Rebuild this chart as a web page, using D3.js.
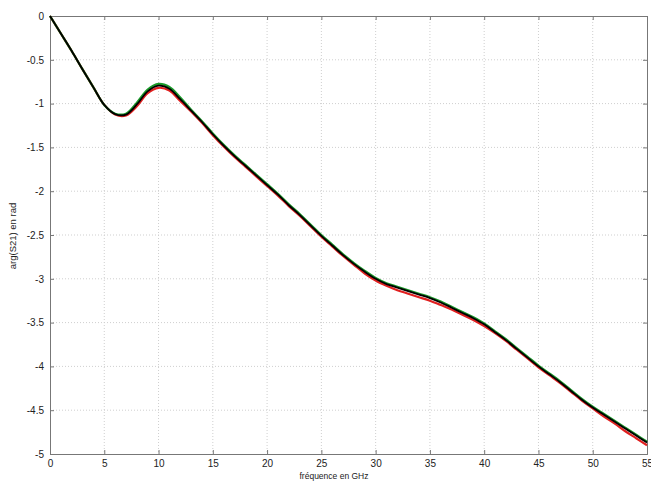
<!DOCTYPE html>
<html><head><meta charset="utf-8">
<script src="https://cdn.jsdelivr.net/npm/d3@7"></script>
<style>body{margin:0;background:#fff}svg{display:block}</style>
</head><body>
<script>
const freq = d3.range(0, 56, 1);
const blackVals = [0,-0.20,-0.40,-0.61,-0.815,-1.015,-1.12,-1.125,-1.01,-0.86,-0.795,-0.83,-0.95,-1.08,-1.21,-1.35,-1.48,-1.60,-1.71,-1.82,-1.93,-2.04,-2.16,-2.27,-2.39,-2.51,-2.62,-2.73,-2.83,-2.92,-3.00,-3.06,-3.10,-3.14,-3.18,-3.22,-3.27,-3.33,-3.39,-3.45,-3.52,-3.61,-3.70,-3.80,-3.90,-4.00,-4.09,-4.18,-4.28,-4.38,-4.47,-4.55,-4.63,-4.71,-4.79,-4.87];
const greenVals = [0,-0.20,-0.40,-0.61,-0.815,-1.015,-1.115,-1.115,-0.99,-0.84,-0.775,-0.81,-0.93,-1.07,-1.20,-1.34,-1.47,-1.59,-1.70,-1.81,-1.92,-2.03,-2.15,-2.26,-2.38,-2.50,-2.61,-2.72,-2.82,-2.91,-2.99,-3.05,-3.09,-3.13,-3.17,-3.21,-3.26,-3.32,-3.38,-3.44,-3.51,-3.60,-3.69,-3.79,-3.89,-3.99,-4.08,-4.17,-4.27,-4.37,-4.46,-4.54,-4.62,-4.70,-4.78,-4.86];
const redVals = [0,-0.20,-0.40,-0.61,-0.815,-1.015,-1.125,-1.135,-1.03,-0.88,-0.82,-0.85,-0.97,-1.09,-1.22,-1.36,-1.49,-1.61,-1.72,-1.83,-1.94,-2.05,-2.17,-2.28,-2.40,-2.52,-2.63,-2.74,-2.84,-2.94,-3.02,-3.08,-3.13,-3.17,-3.21,-3.25,-3.30,-3.35,-3.41,-3.47,-3.54,-3.62,-3.71,-3.81,-3.91,-4.01,-4.10,-4.19,-4.29,-4.39,-4.48,-4.57,-4.65,-4.74,-4.82,-4.90];
const xTicks = [0,5,10,15,20,25,30,35,40,45,50,55];
const yTicks = [0,-0.5,-1,-1.5,-2,-2.5,-3,-3.5,-4,-4.5,-5];
const xTickLabels = ["0","5","10","15","20","25","30","35","40","45","50","55"];
const yTickLabels = ["0","-0.5","-1","-1.5","-2","-2.5","-3","-3.5","-4","-4.5","-5"];
const seriesColors = ["#e02020","#1a9a2a","#000000"];

const W = 651, H = 487;
const svg = d3.select("body").append("svg").attr("width", W).attr("height", H);
const x = d3.scaleLinear().domain([0,55]).range([50,647]);
const y = d3.scaleLinear().domain([-5,0]).range([454,16]);
const font = "'Liberation Sans', Arial, sans-serif";

// grid
svg.append("g").selectAll("line").data(xTicks.slice(1,-1)).join("line")
  .attr("x1", d=>x(d)).attr("x2", d=>x(d)).attr("y1", y(0)).attr("y2", y(-5))
  .attr("stroke", "#cfcfcf").attr("stroke-dasharray", "1,2");
svg.append("g").selectAll("line").data(yTicks.slice(1,-1)).join("line")
  .attr("y1", d=>y(d)).attr("y2", d=>y(d)).attr("x1", x(0)).attr("x2", x(55))
  .attr("stroke", "#cfcfcf").attr("stroke-dasharray", "1,2");

// axes
const ax = svg.append("g").attr("transform", `translate(0,${y(-5)})`)
  .call(d3.axisBottom(x).tickValues(xTicks).tickFormat((d,i)=>xTickLabels[i]).tickSize(-4).tickPadding(6));
const ay = svg.append("g").attr("transform", `translate(${x(0)},0)`)
  .call(d3.axisLeft(y).tickValues(yTicks).tickFormat((d,i)=>yTickLabels[i]).tickSize(-4).tickPadding(6));
const axT = svg.append("g").attr("transform", `translate(0,${y(0)})`)
  .call(d3.axisTop(x).tickValues(xTicks).tickFormat("").tickSize(-4));
const ayR = svg.append("g").attr("transform", `translate(${x(55)},0)`)
  .call(d3.axisRight(y).tickValues(yTicks).tickFormat("").tickSize(-4));
[ax, ay, axT, ayR].forEach(g => {
  g.select(".domain").attr("stroke", "#777");
  g.selectAll(".tick line").attr("stroke", "#777");
  g.selectAll("text").attr("fill", "#222").style("font-family", font).style("font-size", "10px");
});

// lines
const line = d3.line().x((d,i)=>x(freq[i])).y(d=>y(d)).curve(d3.curveCatmullRom.alpha(0.5));
[redVals, greenVals, blackVals].forEach((vals, k) => {
  svg.append("path").datum(vals).attr("d", line).attr("fill", "none")
    .attr("stroke", seriesColors[k]).attr("stroke-width", k === 2 ? 1.8 : 2.2)
    .attr("stroke-linejoin", "round");
});

// labels
svg.append("text").attr("x", 334).attr("y", 479).attr("text-anchor", "middle")
  .style("font-family", font).style("font-size", "8.5px").attr("fill", "#222").text("fréquence en GHz");
svg.append("text").attr("transform", "translate(16,236) rotate(-90)").attr("text-anchor", "middle")
  .style("font-family", font).style("font-size", "9.5px").attr("fill", "#222").text("arg(S21) en rad");
</script>
</body></html>
